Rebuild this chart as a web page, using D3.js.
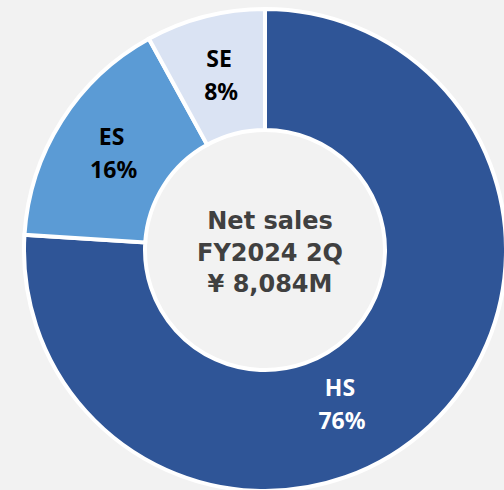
<!DOCTYPE html>
<html>
<head>
<meta charset="utf-8">
<script src="https://cdn.jsdelivr.net/npm/d3@7"></script>
<style>
  html, body { margin: 0; padding: 0; background: #f2f2f2; }
  svg { display: block; }
</style>
</head>
<body>
<script>
var segments = ["HS", "ES", "SE"];
var shares = [76, 16, 8];
var centerLines = ["Net sales", "FY2024 2Q", "\u00a5 8,084M"];

var width = 504, height = 490;
var cx = 265, cy = 250;
var outerR = 241, innerR = 120;

var color = d3.scaleOrdinal()
    .domain(segments)
    .range(["#2f5597", "#5b9bd5", "#dae3f3"]);
var textColor = d3.scaleOrdinal()
    .domain(segments)
    .range(["#ffffff", "#000000", "#000000"]);

var svg = d3.select("body").append("svg")
    .attr("width", width)
    .attr("height", height);

svg.append("rect")
    .attr("width", width)
    .attr("height", height)
    .attr("fill", "#f2f2f2");

var g = svg.append("g")
    .attr("transform", "translate(" + cx + "," + cy + ")");

var data = segments.map(function(d, i) { return {name: d, value: shares[i]}; });

var pie = d3.pie()
    .value(function(d) { return d.value; })
    .sort(null);

var arc = d3.arc()
    .innerRadius(innerR)
    .outerRadius(outerR);

var arcs = pie(data);

g.selectAll(".slice")
    .data(arcs)
    .enter().append("path")
    .attr("class", "slice")
    .attr("d", arc)
    .attr("fill", function(d) { return color(d.data.name); })
    .attr("stroke", "#ffffff")
    .attr("stroke-width", 4)
    .attr("stroke-linejoin", "miter");

// label spot: centroid, except the big slice which excel pushes toward the bottom
function labelPos(d) {
    var a = (d.startAngle + d.endAngle) / 2;
    var r = (innerR + outerR) / 2;
    if (d.data.name == "HS") {
        a = a + 17 * Math.PI / 180;
        r = 172;
    }
    return [Math.sin(a) * r, -Math.cos(a) * r];
}

var labels = g.selectAll(".label")
    .data(arcs)
    .enter().append("text")
    .attr("class", "label")
    .attr("text-anchor", "middle")
    .attr("font-family", "'Noto Sans', 'Open Sans', sans-serif")
    .attr("font-weight", "bold")
    .attr("font-size", 23)
    .attr("fill", function(d) { return textColor(d.data.name); })
    .attr("transform", function(d) {
        var p = labelPos(d);
        return "translate(" + (p[0] - 1) + "," + p[1] + ")";
    });

labels.append("tspan")
    .attr("x", 0)
    .attr("y", -8)
    .text(function(d) { return d.data.name; });
labels.append("tspan")
    .attr("x", 2)
    .attr("y", 25)
    .text(function(d) { return d.data.value + "%"; });

g.selectAll(".center")
    .data(centerLines)
    .enter().append("text")
    .attr("class", "center")
    .attr("text-anchor", "middle")
    .attr("font-family", "'DejaVu Sans', sans-serif")
    .attr("font-weight", "bold")
    .attr("font-size", 24)
    .attr("fill", "#404040")
    .attr("x", 5)
    .attr("y", function(d, i) { return -21 + i * 31.5; })
    .text(function(d) { return d; });
</script>
</body>
</html>
